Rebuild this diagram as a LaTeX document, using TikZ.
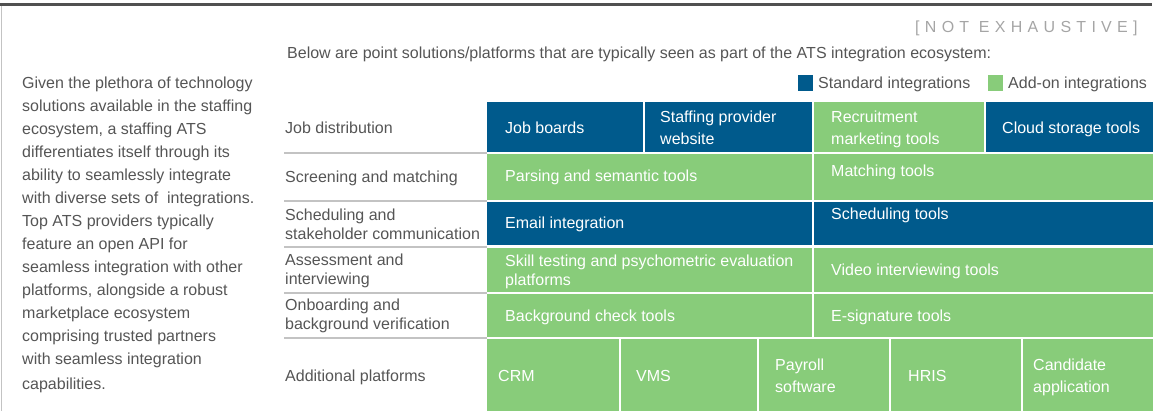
\documentclass[tikz,border=0pt]{standalone}
\usepackage{fontspec}
\setmainfont{Liberation Sans}
\definecolor{stdblue}{RGB}{0,90,140}
\definecolor{addgreen}{RGB}{136,204,122}
\definecolor{txtgray}{RGB}{85,85,85}
\definecolor{sepgray}{RGB}{195,195,195}
\definecolor{topgray}{RGB}{80,80,80}
\definecolor{notgray}{RGB}{165,165,165}
\begin{document}
\begin{tikzpicture}[x=1pt,y=-1pt,
  cell/.style={draw=none, inner sep=0pt, outer sep=0pt, anchor=north west},
  std/.style={cell, fill=stdblue},
  add/.style={cell, fill=addgreen},
  intxt/.style={anchor=base west, inner sep=0pt, text=white, font=\fontsize{16}{19}\selectfont},
  lbl/.style={anchor=base west, inner sep=0pt, text=txtgray, font=\fontsize{16}{19}\selectfont},
  sep/.style={draw=sepgray, line width=2pt},
]
\useasboundingbox (0,0) rectangle (1170,411);
% frame
\draw[line width=3pt, draw=topgray] (0,5) -- (1152,5);
\draw[line width=1.5pt, draw=sepgray] (1.5,6.5) -- (1.5,411);
% heading
\node[anchor=base west, inner sep=0pt, text=notgray, font=\fontsize{16}{18}\selectfont\addfontfeatures{LetterSpace=33}] (notex) at (915,33) {[NOT EXHAUSTIVE]};
\node[lbl] (intro) at (287,58.5) {Below are point solutions/platforms that are typically seen as part of the ATS integration ecosystem:};
% legend
\node[std, minimum width=15pt, minimum height=16pt] (legstd) at (798,75) {};
\node[lbl] (legstdt) at (818,89) {Standard integrations};
\node[add, minimum width=15pt, minimum height=16pt] (legadd) at (988,75) {};
\node[lbl] (legaddt) at (1008,89) {Add-on integrations};
% left paragraph
\foreach \t [count=\i] in {Given the plethora of technology,
  solutions available in the staffing,
  {ecosystem, a staffing ATS},
  differentiates itself through its,
  ability to seamlessly integrate,
  with diverse sets of\ \ integrations.,
  Top ATS providers typically,
  feature an open API for,
  seamless integration with other,
  {platforms, alongside a robust},
  marketplace ecosystem,
  comprising trusted partners,
  with seamless integration}{
  \node[lbl] (para\i) at (22,{89+(\i-1)*23}) {\t};
}
\node[lbl] (para14) at (22,390) {capabilities.};
% row labels
\node[lbl] (r1) at (285,133.5) {Job distribution};
\node[lbl] (r2) at (285,183) {Screening and matching};
\node[lbl] (r3a) at (285,221) {Scheduling and};
\node[lbl] (r3b) at (285,240) {stakeholder communication};
\node[lbl] (r4a) at (285,266) {Assessment and};
\node[lbl] (r4b) at (285,285) {interviewing};
\node[lbl] (r5a) at (285,311) {Onboarding and};
\node[lbl] (r5b) at (285,330) {background verification};
\node[lbl] (r6) at (285,382) {Additional platforms};
% separators
\foreach \y [count=\i] in {153.2,200.8,246.8,293,337.9}{
  \draw[sep] (284,\y) -- (487,\y);
}
% row 1
\node[std, minimum width=156pt, minimum height=50pt] (jobboards) at (487,102) {};
\node[std, minimum width=167pt, minimum height=50pt] (staffweb) at (645,102) {};
\node[add, minimum width=170pt, minimum height=50pt] (recruit) at (814,102) {};
\node[std, minimum width=167pt, minimum height=50pt] (cloud) at (986,102) {};
\node[intxt] (tjb) at (505,134) {Job boards};
\node[intxt] (tsw1) at (660,123) {Staffing provider};
\node[intxt] (tsw2) at (660,145) {website};
\node[intxt] (trm1) at (831,123) {Recruitment};
\node[intxt] (trm2) at (831,145) {marketing tools};
\node[intxt] (tcl) at (1002,134) {Cloud storage tools};
% row 2
\node[add, minimum width=325pt, minimum height=45.3pt] (parsing) at (487,154.3) {};
\node[add, minimum width=339pt, minimum height=45.3pt] (matching) at (814,154.3) {};
\node[intxt] (tpa) at (505,182) {Parsing and semantic tools};
\node[intxt] (tma) at (831,177) {Matching tools};
% row 3
\node[std, minimum width=325pt, minimum height=43.5pt] (email) at (487,202) {};
\node[std, minimum width=339pt, minimum height=43.5pt] (sched) at (814,202) {};
\node[intxt] (tem) at (505,229) {Email integration};
\node[intxt] (tsc) at (831,220) {Scheduling tools};
% row 4
\node[add, minimum width=325pt, minimum height=43.5pt] (skill) at (487,248.2) {};
\node[add, minimum width=339pt, minimum height=43.5pt] (video) at (814,248.2) {};
\node[intxt] (tsk1) at (505,267) {Skill testing and psychometric evaluation};
\node[intxt] (tsk2) at (505,285.5) {platforms};
\node[intxt] (tvi) at (831,275.5) {Video interviewing tools};
% row 5
\node[add, minimum width=325pt, minimum height=42.3pt] (bgcheck) at (487,294.3) {};
\node[add, minimum width=339pt, minimum height=42.3pt] (esign) at (814,294.3) {};
\node[intxt] (tbg) at (505,322) {Background check tools};
\node[intxt] (tes) at (831,322) {E-signature tools};
% row 6
\node[add, minimum width=132pt, minimum height=72pt] (crm) at (487,339.3) {};
\node[add, minimum width=136pt, minimum height=72pt] (vms) at (621,339.3) {};
\node[add, minimum width=130pt, minimum height=72pt] (payroll) at (759,339.3) {};
\node[add, minimum width=130pt, minimum height=72pt] (hris) at (891,339.3) {};
\node[add, minimum width=130pt, minimum height=72pt] (cand) at (1023,339.3) {};
\node[intxt] (tcrm) at (498,382) {CRM};
\node[intxt] (tvms) at (636,382) {VMS};
\node[intxt] (tpy1) at (775,371) {Payroll};
\node[intxt] (tpy2) at (775,393) {software};
\node[intxt] (thr) at (908,382) {HRIS};
\node[intxt] (tca1) at (1033,371) {Candidate};
\node[intxt] (tca2) at (1033,393) {application};
\end{tikzpicture}
\end{document}
